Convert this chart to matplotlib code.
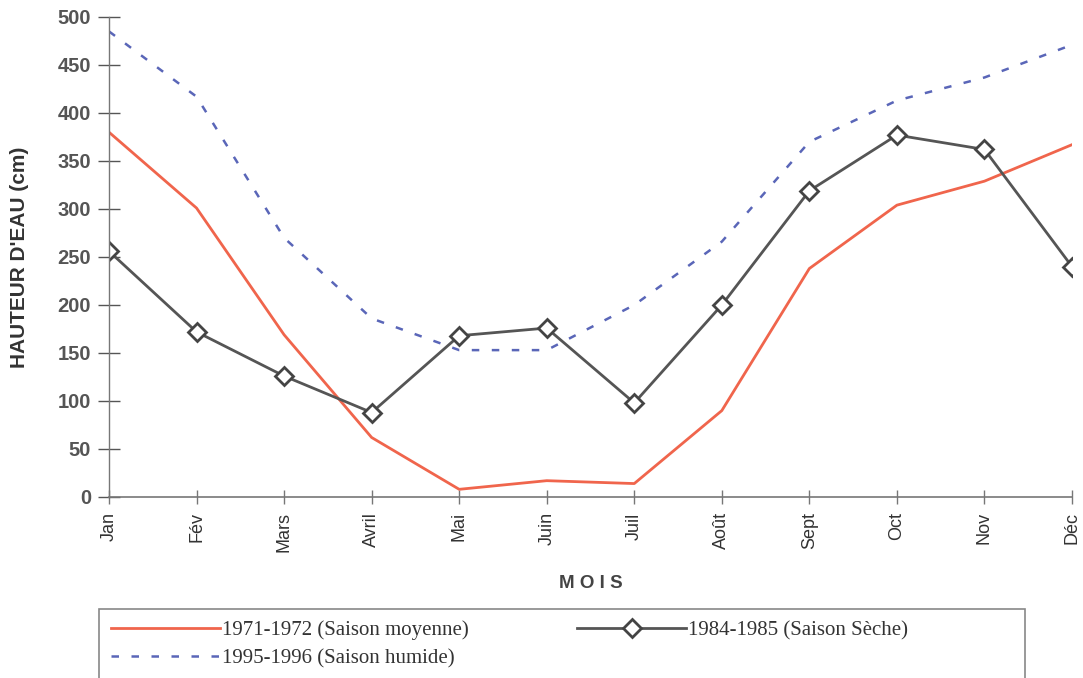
import numpy as np
import matplotlib.pyplot as plt
from matplotlib.patches import Rectangle

# ------------------------------------------------------------
# DATA
# ------------------------------------------------------------
months = ["Jan", "Fév", "Mars", "Avril", "Mai", "Juin",
          "Juil", "Août", "Sept", "Oct", "Nov", "Déc"]

moyenne_7172 = [380, 301, 169, 62, 8, 17, 14, 90, 238, 304, 329, 367]
seche_8485 = [256, 172, 126, 88, 168, 176, 98, 200, 319, 377, 362, 240]
humide_9596 = [485, 417, 270, 186, 153, 153, 200, 266, 370, 413, 437, 471]

yticks = [0, 50, 100, 150, 200, 250, 300, 350, 400, 450, 500]

label_7172 = "1971-1972 (Saison moyenne)"
label_8485 = "1984-1985 (Saison Sèche)"
label_9596 = "1995-1996 (Saison humide)"

# ------------------------------------------------------------
# PLOT
# ------------------------------------------------------------
plt.rcParams.update({"font.family": "Liberation Sans"})

W, H = 1083, 678
fig = plt.figure(figsize=(W / 100, H / 100), dpi=100)
ax = fig.add_axes([109 / W, 1 - 497 / H, (1072 - 109) / W, (497 - 17) / H])

x = np.arange(len(months))

l1, = ax.plot(x, moyenne_7172, color="#f0654c", linewidth=2.0)
l2, = ax.plot(x, seche_8485, color="#555555", linewidth=2.0,
              marker="D", markersize=9, markerfacecolor="white",
              markeredgecolor="#444444", markeredgewidth=2.0)
l3, = ax.plot(x, humide_9596, color="#5a66b8", linewidth=1.8,
              linestyle=(0, (3, 5)))

ax.set_xlim(0, 11)
ax.set_ylim(0, 500)

ax.set_xticks(x)
ax.set_xticklabels(months, rotation=90, fontsize=13, color="#333333")
ax.set_yticks(yticks)
ax.set_yticklabels([str(v) for v in yticks], fontsize=14.5,
                   fontweight="bold", color="#555555")

ax.tick_params(axis="y", direction="inout", length=16, width=1.0,
               color="#555555", pad=5)
ax.tick_params(axis="x", direction="inout", length=10, width=1.0,
               color="#777777", pad=6)

for side in ["top", "right"]:
    ax.spines[side].set_visible(False)
ax.spines["left"].set_color("#777777")
ax.spines["bottom"].set_color("#777777")
ax.spines["left"].set_linewidth(1.0)
ax.spines["bottom"].set_linewidth(1.2)
for sp in ax.spines.values():
    sp.set_clip_on(False)

ax.set_ylabel("HAUTEUR D'EAU (cm)", fontsize=15, fontweight="bold",
              color="#333333")
ax.yaxis.set_label_coords((29 - 109) / (1072 - 109), 0.5)
ax.set_xlabel("M O I S", fontsize=13.5, fontweight="bold", color="#444444",
              labelpad=16)

# legend frame (runs off the bottom of the page in the original)
fig.patches.append(Rectangle((99 / W, -0.05), (1025 - 99) / W, 0.05 + 1 - 609 / H,
                             transform=fig.transFigure, fill=False,
                             edgecolor="#888888", linewidth=1.2))

leg = fig.legend(
    [l1, l3, l2],
    [label_7172, label_9596, label_8485],
    loc="upper left",
    bbox_to_anchor=(100 / W, 1 - 609 / H),
    borderaxespad=0,
    ncol=2,
    frameon=False,
    handlelength=5.2,
    handletextpad=0.12,
    columnspacing=5.2,
    labelspacing=0.4,
    borderpad=0.55,
    prop={"family": "Liberation Serif", "size": 15},
)
for t in leg.get_texts():
    t.set_color("#333333")

fig.savefig("out.png", dpi=100)
